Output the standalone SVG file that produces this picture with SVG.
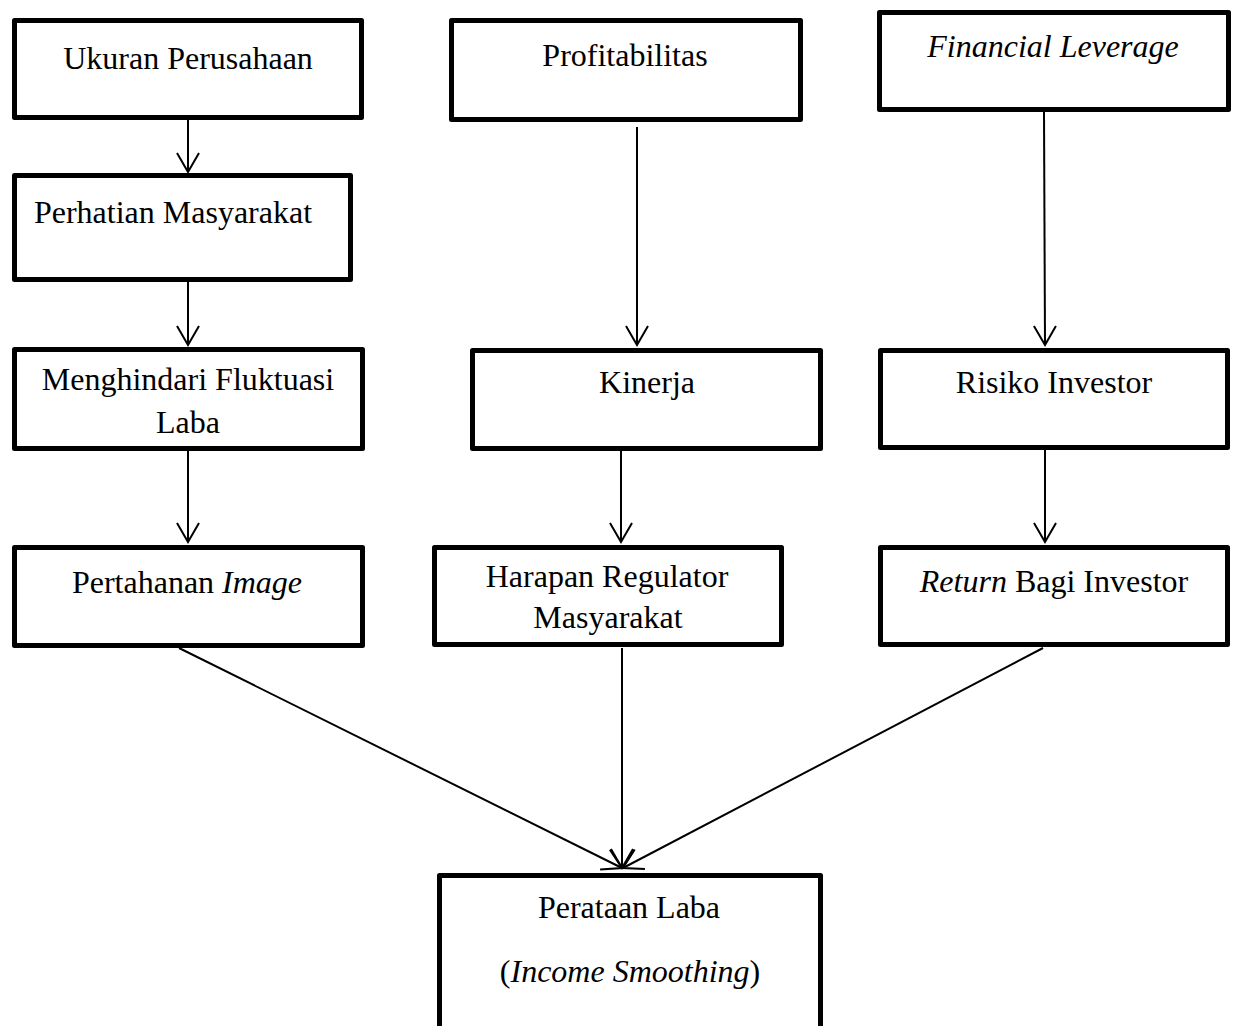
<svg xmlns="http://www.w3.org/2000/svg" width="1235" height="1026" viewBox="0 0 1235 1026">
<style>
.box{fill:#fff;stroke:#000;stroke-width:5;stroke-linejoin:round}
.lbl{font-family:"Liberation Serif","Times New Roman",serif;font-size:32px;fill:#000;text-anchor:middle}
.it{font-style:italic}
.con{stroke:#000;stroke-width:2;fill:none;marker-end:url(#arr)}
</style>
<defs>
<marker id="arr" markerUnits="userSpaceOnUse" markerWidth="24" markerHeight="26" refX="19" refY="0" orient="auto" overflow="visible">
<path d="M0,-11 L19,0 L0,11" fill="none" stroke="#000" stroke-width="2"/>
</marker>
</defs>
<rect width="1235" height="1026" fill="#fff"/>
<g id="connectors">
<line class="con" x1="188" y1="120" x2="188" y2="172"/>
<line class="con" x1="188" y1="282" x2="188" y2="345"/>
<line class="con" x1="188" y1="451" x2="188" y2="542"/>
<line class="con" x1="637" y1="127" x2="637" y2="345"/>
<line class="con" x1="621" y1="451" x2="621" y2="542"/>
<line class="con" x1="1044" y1="112" x2="1045" y2="345"/>
<line class="con" x1="1045" y1="450" x2="1045" y2="542"/>
<line class="con" x1="179" y1="648" x2="622" y2="868"/>
<line class="con" x1="622" y1="648" x2="622" y2="868"/>
<line class="con" x1="1043" y1="648" x2="623" y2="868"/>
</g>
<g id="ukuran">
<rect class="box" x="14.5" y="20.5" width="347" height="97"/>
<text class="lbl" x="188" y="69">Ukuran Perusahaan</text>
</g>
<g id="perhatian">
<rect class="box" x="14.5" y="175.5" width="336" height="104"/>
<text class="lbl" x="173" y="223">Perhatian Masyarakat</text>
</g>
<g id="menghindari">
<rect class="box" x="14.5" y="349.5" width="348" height="99"/>
<text class="lbl" x="188" y="390">Menghindari Fluktuasi</text>
<text class="lbl" x="188" y="433">Laba</text>
</g>
<g id="pertahanan">
<rect class="box" x="14.5" y="547.5" width="348" height="98"/>
<text class="lbl" x="187" y="593">Pertahanan <tspan class="it">Image</tspan></text>
</g>
<g id="profitabilitas">
<rect class="box" x="451.5" y="20.5" width="349" height="99"/>
<text class="lbl" x="625" y="66">Profitabilitas</text>
</g>
<g id="kinerja">
<rect class="box" x="472.5" y="350.5" width="348" height="98"/>
<text class="lbl" x="647" y="393">Kinerja</text>
</g>
<g id="harapan">
<rect class="box" x="434.5" y="547.5" width="347" height="97"/>
<text class="lbl" x="607" y="587">Harapan Regulator</text>
<text class="lbl" x="608" y="628">Masyarakat</text>
</g>
<g id="financial">
<rect class="box" x="879.5" y="12.5" width="349" height="97"/>
<text class="lbl it" x="1053" y="57">Financial Leverage</text>
</g>
<g id="risiko">
<rect class="box" x="880.5" y="350.5" width="347" height="97"/>
<text class="lbl" x="1054" y="393">Risiko Investor</text>
</g>
<g id="return">
<rect class="box" x="880.5" y="547.5" width="347" height="97"/>
<text class="lbl" x="1054" y="592"><tspan class="it">Return</tspan> Bagi Investor</text>
</g>
<g id="perataan">
<rect class="box" x="439.5" y="875.5" width="381" height="200"/>
<text class="lbl" x="629" y="918">Perataan Laba</text>
<text class="lbl" x="630" y="982">(<tspan class="it">Income Smoothing</tspan>)</text>
</g>
</svg>
